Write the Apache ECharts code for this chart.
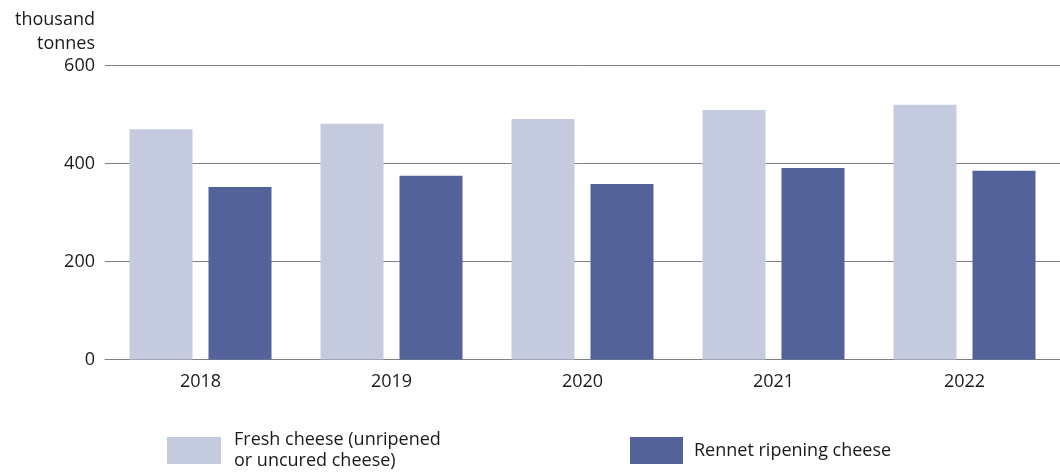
<!DOCTYPE html>
<html>
<head>
<meta charset="utf-8">
<script src="https://cdn.jsdelivr.net/npm/echarts@6/dist/echarts.min.js"></script>
<style>
  html, body { margin: 0; padding: 0; background: #ffffff; }
  #chart { width: 1060px; height: 474px; }
</style>
</head>
<body>
<div id="chart"></div>
<script>
// Cheese production, thousand tonnes
const years = ['2018', '2019', '2020', '2021', '2022'];
const freshCheese = [470, 481, 491, 509, 520];
const rennetCheese = [352, 375, 358, 391, 385];
const yTicks = [0, 200, 400, 600];

const FONT = '"Open Sans", "Noto Sans", sans-serif';
const TEXT = '#1a1a1a';
const FRESH_NAME = 'Fresh cheese (unripened or uncured cheese)';
const RENNET_NAME = 'Rennet ripening cheese';

const chart = echarts.init(document.getElementById('chart'));
chart.setOption({
  animation: false,
  textStyle: { fontFamily: FONT },
  grid: { left: 105, right: 0, top: 65.5, bottom: 114.5 },
  legend: [
    {
      data: [FRESH_NAME],
      left: 167, top: 429.5, padding: 0,
      itemWidth: 54, itemHeight: 27,
      icon: 'rect',
      formatter: () => 'Fresh cheese (unripened\nor uncured cheese)',
      textStyle: { fontFamily: FONT, fontSize: 18, color: TEXT, lineHeight: 21, padding: [0, 0, 0, 8] }
    },
    {
      data: [RENNET_NAME],
      left: 630, top: 437, padding: 0,
      itemWidth: 53, itemHeight: 27,
      icon: 'rect',
      textStyle: { fontFamily: FONT, fontSize: 18, color: TEXT, padding: [0, 0, 0, 6] }
    }
  ],
  xAxis: {
    type: 'category',
    data: years,
    axisLine: { show: true, lineStyle: { color: '#808080', width: 1 } },
    axisTick: { show: false },
    axisLabel: { fontFamily: FONT, fontSize: 18, color: TEXT, margin: 13 }
  },
  yAxis: {
    type: 'value',
    min: yTicks[0],
    max: yTicks[yTicks.length - 1],
    interval: yTicks[1] - yTicks[0],
    name: 'thousand\ntonnes',
    nameLocation: 'end',
    nameGap: 10,
    nameTextStyle: { fontFamily: FONT, fontSize: 18, color: TEXT, align: 'right', lineHeight: 24, padding: [0, 10, 0, 0] },
    axisLine: { show: false },
    axisTick: { show: false },
    axisLabel: { fontFamily: FONT, fontSize: 18, color: TEXT, margin: 10 },
    splitLine: { show: true, lineStyle: { color: '#808080', width: 1 } }
  },
  series: [
    {
      name: FRESH_NAME,
      type: 'bar',
      data: freshCheese,
      barWidth: 63,
      barGap: '25.4%',
      itemStyle: { color: '#c5cbde' }
    },
    {
      name: RENNET_NAME,
      type: 'bar',
      data: rennetCheese,
      barWidth: 63,
      itemStyle: { color: '#536399' }
    }
  ]
});
</script>
</body>
</html>
